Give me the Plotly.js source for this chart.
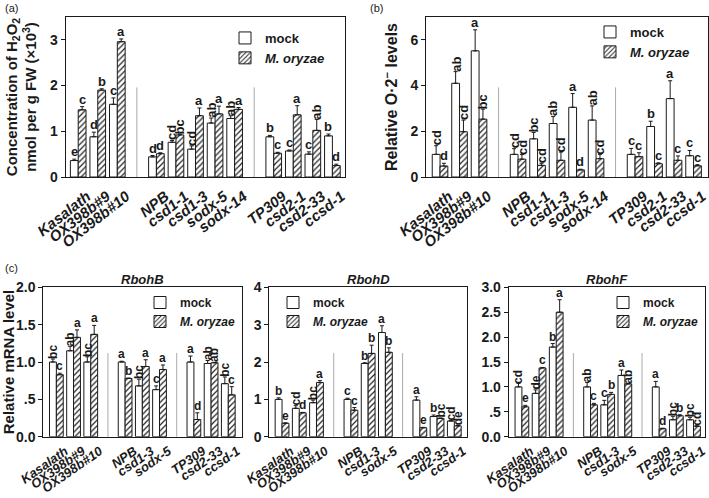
<!DOCTYPE html>
<html><head><meta charset="utf-8">
<script src="https://cdn.plot.ly/plotly-3.0.1.min.js"></script>
<style>html,body{margin:0;padding:0;background:#fff}#chart{width:709px;height:498px}</style>
</head><body><div id="chart"></div>
<script>
// ---------- genotypes ----------
const genotypesAB = ['Kasalath','OX398b#9','OX398b#10','NPB','csd1-1','csd1-3','sodx-5','sodx-14','TP309','csd2-1','csd2-33','ccsd-1'];
const groupSizesAB = [3,5,4];
const genotypesC = ['Kasalath','OX398b#9','OX398b#10','NPB','csd1-3','sodx-5','TP309','csd2-33','ccsd-1'];
const groupSizesC = [3,3,3];

// ---------- (a) H2O2 ----------
const h2o2Mock      = [0.36,0.88,1.59, 0.44,0.76,0.61,1.18,1.28, 0.88,0.57,0.50,0.90];
const h2o2MockErr   = [0.03,0.10,0.14, 0.03,0.04,0.07,0.11,0.06, 0.03,0.02,0.05,0.04];
const h2o2MockSig   = ['e','d','c', 'd','cd','cd','ab','ab', 'b','c','c','b'];
const h2o2Mo        = [1.47,1.90,2.96, 0.51,0.92,1.34,1.38,1.48, 0.52,1.36,1.02,0.25];
const h2o2MoErr     = [0.07,0.03,0.06, 0.02,0.02,0.17,0.17,0.04, 0.02,0.20,0.24,0.03];
const h2o2MoSig     = ['c','b','a', 'd','bc','a','a','a', 'c','a','ab','d'];

// ---------- (b) superoxide ----------
const o2Mock    = [0.99,4.10,5.52, 0.99,1.67,2.34,3.05,2.49, 0.99,2.21,3.43,0.93];
const o2MockErr = [0.38,0.51,0.92, 0.25,0.28,0.31,0.60,0.62, 0.26,0.23,0.78,0.23];
const o2MockSig = ['cd','ab','a', 'cd','bc','ab','a','ab', 'c','b','a','c'];
const o2Mo      = [0.48,1.98,2.53, 0.78,0.51,0.73,0.31,0.80, 0.89,0.58,0.73,0.49];
const o2MoErr   = [0.12,0.51,0.44, 0.20,0.09,0.36,0.03,0.19, 0.17,0.04,0.19,0.05];
const o2MoSig   = ['d','cd','bc', 'cd','cd','cd','d','cd', 'c','c','c','c'];

// ---------- (c) RbohB ----------
const rbBMock    = [1.00,1.15,1.00, 1.00,0.68,0.63, 1.00,0.98,0.71];
const rbBMockErr = [0.04,0.06,0.07, 0.01,0.09,0.05, 0.08,0.04,0.09];
const rbBMockSig = ['bc','ab','bc', 'a','bc','c', 'a','ab','bc'];
const rbBMo      = [0.83,1.33,1.37, 0.78,0.94,0.90, 0.23,0.99,0.56];
const rbBMoErr   = [0.02,0.10,0.12, 0.005,0.09,0.06, 0.09,0.005,0.11];
const rbBMoSig   = ['c','a','a', 'b','a','a', 'd','ab','c'];

// ---------- (c) RbohD ----------
const rbDMock    = [1.00,0.76,0.91, 1.00,1.96,2.79, 0.98,0.54,0.42];
const rbDMockErr = [0.04,0.07,0.07, 0.03,0.02,0.18, 0.09,0.04,0.01];
const rbDMockSig = ['b','cd','bc', 'c','b','a', 'a','b','cd'];
const rbDMo      = [0.36,0.64,1.45, 0.71,2.23,2.26, 0.24,0.49,0.29];
const rbDMoErr   = [0.01,0.01,0.05, 0.07,0.22,0.12, 0.01,0.01,0.01];
const rbDMoSig   = ['e','d','a', 'c','b','b', 'e','bc','de'];

// ---------- (c) RbohF ----------
const rbFMock    = [1.00,0.87,1.80, 1.00,0.64,1.23, 1.00,0.34,0.34];
const rbFMockErr = [0.07,0.07,0.07, 0.09,0.09,0.11, 0.11,0.07,0.05];
const rbFMockSig = ['cd','de','b', 'ab','c','a', 'a','bc','bc'];
const rbFMo      = [0.60,1.38,2.50, 0.64,0.85,1.06, 0.16,0.42,0.21];
const rbFMoErr   = [0.03,0.01,0.25, 0.03,0.04,0.01, 0.01,0.02,0.01];
const rbFMoSig   = ['e','c','a', 'c','b','ab', 'd','b','cd'];

// ---------- tick labels ----------
const yTicksA = [0,1,2,3];
const yTicksB = [0,2,4,6];
const yTicksRbB = [0,0.5,1,1.5,2];      const yTextRbB = ['0.0','.5','1.0','1.5','2.0'];
const yTicksRbD = [0,1,2,3,4];
const yTicksRbF = [0,0.5,1,1.5,2,2.5,3]; const yTextRbF = ['0.0','.5','1.0','1.5','2.0','2.5','3.0'];

// ---------- builders ----------
const FONT = 'Liberation Sans, Arial, sans-serif';
const INK = '#1a1a1a';
const BARGAP = 0.2;
const traces = [], annotations = [], shapes = [];
const layout = {
  width: 709, height: 498, margin: {l:0, r:0, t:0, b:0},
  paper_bgcolor: 'white', plot_bgcolor: 'white',
  barmode: 'group', bargap: BARGAP, bargroupgap: 0,
  font: {family: FONT, color: INK},
  showlegend: true, hovermode: false
};

function slotArray(genos, sizes) {
  const out = []; let k = 0, gap = '_gap';
  sizes.forEach((n, gi) => {
    for (let i = 0; i < n; i++) out.push(genos[k++]);
    if (gi < sizes.length - 1) { out.push(gap + gi); }
  });
  return out;
}

function panel(o) {
  const s = o.id === 1 ? '' : String(o.id);
  const xa = 'x' + s, ya = 'y' + s;
  const leg = 'legend' + s;
  const slots = slotArray(o.genos, o.sizes);
  const zeros = o.genos.map(() => 0);
  traces.push({
    type: 'bar', name: '<b>mock</b>', x: o.genos, y: o.mock,
    xaxis: xa, yaxis: ya, legend: leg,
    marker: {color: 'white', line: {color: INK, width: 1}},
    error_y: {type: 'data', symmetric: false, array: o.mErr, arrayminus: zeros, color: INK, thickness: 1, width: 2}
  });
  traces.push({
    type: 'bar', name: '<b><i>M. oryzae</i></b>', x: o.genos, y: o.mo,
    xaxis: xa, yaxis: ya, legend: leg,
    marker: {color: 'white', line: {color: INK, width: 1},
             pattern: {shape: '/', fgcolor: '#222', bgcolor: 'white', size: 4, solidity: 0.3}},
    error_y: {type: 'data', symmetric: false, array: o.moErr, arrayminus: zeros, color: INK, thickness: 1, width: 2}
  });
  const off = (1 - BARGAP) / 4;
  o.genos.forEach((g, i) => {
    const idx = slots.indexOf(g);
    [[o.mock[i] + o.mErr[i], o.mSig[i], -off], [o.mo[i] + o.moErr[i], o.moSig[i], off]].forEach(([top, txt, dx]) => {
      annotations.push({
        xref: xa, yref: ya, x: idx + dx, y: top, text: '<b>' + txt + '</b>',
        showarrow: false, xanchor: 'center', yanchor: 'bottom',
        textangle: txt.length > 1 ? -90 : 0, yshift: -1,
        font: {family: FONT, size: o.sigSize, color: INK}, borderpad: 0
      });
    });
  });
  slots.forEach((c, i) => {
    if (o.genos.indexOf(c) < 0) shapes.push({type: 'line', xref: xa, yref: ya + ' domain', x0: i, x1: i, y0: 0, y1: 0.56,
      line: {color: '#aaaaaa', width: 1}});
  });
  layout['xaxis' + s] = {
    domain: o.xdom, anchor: ya, type: 'category', categoryorder: 'array', categoryarray: slots,
    tickvals: o.genos, ticktext: o.genos,
    range: o.xrange, showline: true, mirror: true, linecolor: INK, linewidth: 1,
    ticks: '', tickangle: o.xangle, showgrid: false, zeroline: false, fixedrange: true,
    ticklabelshift: 9, ticklabelstandoff: o.xstand,
    tickfont: {family: FONT, size: o.xtick, weight: 'bold', style: 'italic', color: INK}
  };
  const yax = {
    domain: o.ydom, anchor: xa, range: o.yrange, showline: true, mirror: true,
    linecolor: INK, linewidth: 1, ticks: 'outside', ticklen: 4, tickcolor: INK,
    tickvals: o.yticks, showgrid: false, zeroline: false, fixedrange: true,
    tickfont: {family: FONT, size: 14, weight: 'bold', color: INK}
  };
  if (o.ytext) yax.ticktext = o.ytext;
  if (o.ytitle) yax.title = {text: o.ytitle, font: {family: FONT, size: o.titleSize, weight: 'bold', color: INK}, standoff: o.standoff};
  layout['yaxis' + s] = yax;
  layout[leg] = {
    x: o.legx, y: o.legy, xanchor: 'left', yanchor: 'top', bgcolor: 'rgba(0,0,0,0)',
    font: {family: FONT, size: o.legSize, color: INK}, itemwidth: 30, tracegroupgap: 0
  };
}

const W = 709, H = 498;
const dx = (a, b) => [a / W, b / W];
const dy = (top, bottom) => [1 - bottom / H, 1 - top / H];

panel({id: 1, genos: genotypesAB, sizes: groupSizesAB,
  mock: h2o2Mock, mErr: h2o2MockErr, mSig: h2o2MockSig, mo: h2o2Mo, moErr: h2o2MoErr, moSig: h2o2MoSig,
  xdom: dx(65.7, 345.3), ydom: dy(17, 177), xrange: [-0.64, 13.66], yrange: [0, 3.5], yticks: yTicksA,
  ytitle: 'Concentration of H<sub>2</sub>O<sub>2</sub><br>nmol per g FW (×10<sup>3</sup>)', titleSize: 15, standoff: 9,
  legx: 225 / W, legy: 1 - 23 / H, legSize: 13, sigSize: 13, xtick: 15, xstand: 4, xangle: -38});
panel({id: 2, genos: genotypesAB, sizes: groupSizesAB,
  mock: o2Mock, mErr: o2MockErr, mSig: o2MockSig, mo: o2Mo, moErr: o2MoErr, moSig: o2MoSig,
  xdom: dx(426, 708), ydom: dy(17, 177), xrange: [-0.72, 13.74], yrange: [0, 7], yticks: yTicksB,
  ytitle: 'Relative O·2<sup>−</sup> levels', titleSize: 16, standoff: 8,
  legx: 590 / W, legy: 1 - 17 / H, legSize: 13, sigSize: 13, xtick: 15, xstand: 4, xangle: -38});
panel({id: 3, genos: genotypesC, sizes: groupSizesC,
  mock: rbBMock, mErr: rbBMockErr, mSig: rbBMockSig, mo: rbBMo, moErr: rbBMoErr, moSig: rbBMoSig,
  xdom: dx(43.3, 241.7), ydom: dy(287.3, 436.7), xrange: [-0.76, 10.78], yrange: [0, 2], yticks: yTicksRbB, ytext: yTextRbB,
  ytitle: 'Relative mRNA level', titleSize: 15, standoff: 6,
  legx: 140 / W, legy: 1 - 288 / H, legSize: 12, sigSize: 12, xtick: 13, xstand: 1, xangle: -35});
panel({id: 4, genos: genotypesC, sizes: groupSizesC,
  mock: rbDMock, mErr: rbDMockErr, mSig: rbDMockSig, mo: rbDMo, moErr: rbDMoErr, moSig: rbDMoSig,
  xdom: dx(269.3, 466.7), ydom: dy(287.3, 436.7), xrange: [-0.74, 10.72], yrange: [0, 4], yticks: yTicksRbD,
  legx: 273 / W, legy: 1 - 288 / H, legSize: 12, sigSize: 12, xtick: 13, xstand: 1, xangle: -35});
panel({id: 5, genos: genotypesC, sizes: groupSizesC,
  mock: rbFMock, mErr: rbFMockErr, mSig: rbFMockSig, mo: rbFMo, moErr: rbFMoErr, moSig: rbFMoSig,
  xdom: dx(508.7, 705), ydom: dy(287.3, 436.7), xrange: [-0.77, 10.67], yrange: [0, 3], yticks: yTicksRbF, ytext: yTextRbF,
  legx: 603 / W, legy: 1 - 288 / H, legSize: 12, sigSize: 12, xtick: 13, xstand: 1, xangle: -35});

// panel labels and gene titles
[['(a)', 3, 8], ['(b)', 368, 8], ['(c)', 3, 268]].forEach(([t, x, y]) => annotations.push({
  xref: 'paper', yref: 'paper', x: x / W, y: 1 - y / H, text: t, showarrow: false,
  xanchor: 'left', yanchor: 'middle', font: {family: FONT, size: 11, color: INK}}));
[['RbohB', 'x3'], ['RbohD', 'x4'], ['RbohF', 'x5']].forEach(([t, xa]) => {
  const d = layout[xa.replace('x', 'xaxis')].domain;
  annotations.push({xref: 'paper', yref: 'paper', x: (d[0] + d[1]) / 2, y: 1 - 279 / H, text: '<b><i>' + t + '</i></b>',
    showarrow: false, xanchor: 'center', yanchor: 'middle', font: {family: FONT, size: 13, color: INK}});
});

layout.annotations = annotations;
layout.shapes = shapes;
Plotly.newPlot('chart', traces, layout, {staticPlot: true, displayModeBar: false});
</script></body></html>
